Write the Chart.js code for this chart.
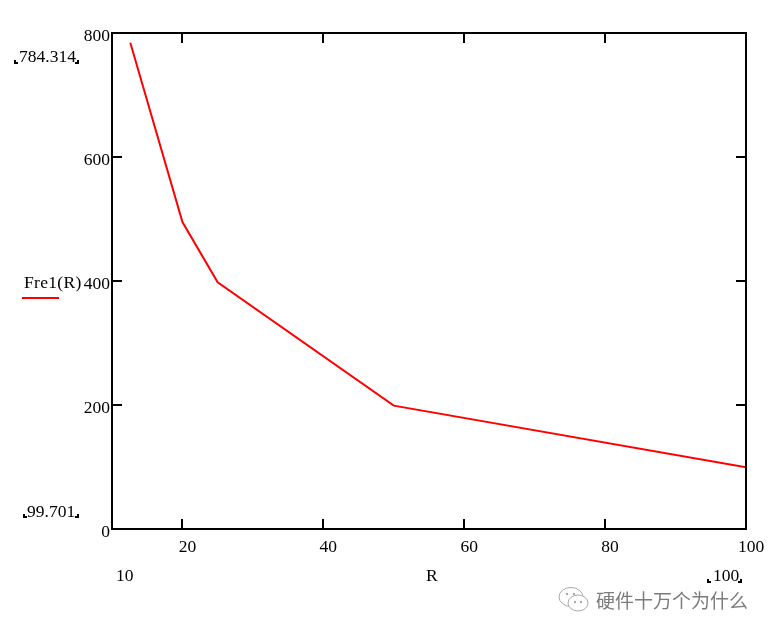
<!DOCTYPE html>
<html>
<head>
<meta charset="utf-8">
<style>
html, body { margin: 0; padding: 0; background: #fff; overflow: hidden; }
#wrap { position: relative; width: 771px; height: 633px; }
.watermark { position: absolute; left: 596px; top: 587px; font: 19px "Noto Sans CJK SC"; color: #7c7c7c; line-height: 26px; white-space: nowrap; }
</style>
<script src="https://cdn.jsdelivr.net/npm/chart.js@4/dist/chart.umd.min.js"></script>
</head>
<body>
<div id="wrap">
    <canvas id="freChart" width="771" height="633"></canvas>
    <div class="watermark">硬件十万个为什么</div>
</div>
<script>
// values
const rValues = [12.6, 20, 25, 50, 100];
const freValues = [784.314, 495, 398, 199, 99.701];
const xTickValues = [20, 40, 60, 80, 100];
const yTickValues = [0, 200, 400, 600, 800];

const serif = '"Liberation Serif"';

// Mathcad style frame: box, inner ticks, range labels, legend
const framePlugin = {
    id: 'frame',
    afterDraw(chart) {
        const c = chart.ctx, a = chart.chartArea;
        const sx = chart.scales.x, sy = chart.scales.y;
        c.save();
        c.strokeStyle = '#000';
        c.lineWidth = 2;
        c.strokeRect(a.left, a.top, a.right - a.left, a.bottom - a.top);
        xTickValues.slice(0, -1).forEach(v => {
            const x = Math.round(sx.getPixelForValue(v));
            c.beginPath(); c.moveTo(x, a.top); c.lineTo(x, a.top + 10); c.stroke();
            c.beginPath(); c.moveTo(x, a.bottom); c.lineTo(x, a.bottom - 10); c.stroke();
        });
        yTickValues.slice(1, -1).forEach(v => {
            const y = Math.round(sy.getPixelForValue(v));
            c.beginPath(); c.moveTo(a.left, y); c.lineTo(a.left + 10, y); c.stroke();
            c.beginPath(); c.moveTo(a.right, y); c.lineTo(a.right - 10, y); c.stroke();
        });

        c.fillStyle = '#000';
        c.font = '17.5px ' + serif;
        c.textBaseline = 'alphabetic';
        c.fillText('784.314', 19, 62);
        c.fillText('99.701', 27, 517);
        c.fillText('10', 116, 581);
        c.fillText('R', 426, 581);
        c.fillText('100', 713, 581);
        c.letterSpacing = '0.3px';
        c.fillText('Fre1(R)', 24, 288);
        c.letterSpacing = '0px';

        // little range markers round the limits
        const marks = [[15, 63, 1], [78, 63, -1], [24, 517, 1], [78, 517, -1], [708, 582, 1], [741, 582, -1]];
        c.lineWidth = 2;
        marks.forEach(m => {
            c.beginPath();
            c.moveTo(m[0], m[1] - 3); c.lineTo(m[0], m[1]);
            c.lineTo(m[0] + m[2] * 3, m[1]);
            c.stroke();
        });

        // legend sample
        c.strokeStyle = '#f00';
        c.lineWidth = 2;
        c.beginPath(); c.moveTo(22, 298); c.lineTo(59, 298); c.stroke();

        // wechat icon of the watermark
        c.strokeStyle = '#a8a8a8';
        c.lineWidth = 1;
        c.beginPath(); c.ellipse(571, 597, 12, 9.5, 0, 0, Math.PI * 2); c.stroke();
        c.fillStyle = '#fff';
        c.beginPath(); c.ellipse(578, 603, 10, 8, 0, 0, Math.PI * 2); c.fill(); c.stroke();
        c.fillStyle = '#a8a8a8';
        [[567, 594], [574, 594], [575, 602], [581, 602]].forEach(p => {
            c.beginPath(); c.arc(p[0], p[1], 1.2, 0, Math.PI * 2); c.fill();
        });
        c.restore();
    }
};

const ctxFre = document.getElementById('freChart').getContext('2d');
const freChart = new Chart(ctxFre, {
    type: 'line',
    data: {
        datasets: [{
            label: 'Fre1(R)',
            data: rValues.map((r, i) => ({ x: r, y: freValues[i] })),
            borderColor: '#f00',
            borderWidth: 2,
            pointRadius: 0,
            tension: 0,
            fill: false
        }]
    },
    options: {
        responsive: false,
        animation: false,
        layout: { padding: { left: 0, right: 25, top: 33, bottom: 0 } },
        plugins: { legend: { display: false }, tooltip: { enabled: false } },
        scales: {
            x: {
                type: 'linear',
                min: 10,
                max: 100,
                afterBuildTicks: s => { s.ticks = xTickValues.map(v => ({ value: v })); },
                afterFit: s => { s.height = 104; },
                grid: { display: false, tickLength: 0 },
                border: { display: false },
                ticks: {
                    color: '#000',
                    font: { family: serif, size: 17.5 },
                    maxRotation: 0,
                    padding: 8,
                    labelOffset: 5
                }
            },
            y: {
                min: 0,
                max: 800,
                afterBuildTicks: s => { s.ticks = yTickValues.map(v => ({ value: v })); },
                afterFit: s => { s.width = 112; },
                grid: { display: false, tickLength: 0 },
                border: { display: false },
                ticks: {
                    color: '#000',
                    font: { family: serif, size: 17.5 },
                    padding: 2,
                    labelOffset: 3
                }
            }
        }
    },
    plugins: [framePlugin]
});
</script>
</body>
</html>
